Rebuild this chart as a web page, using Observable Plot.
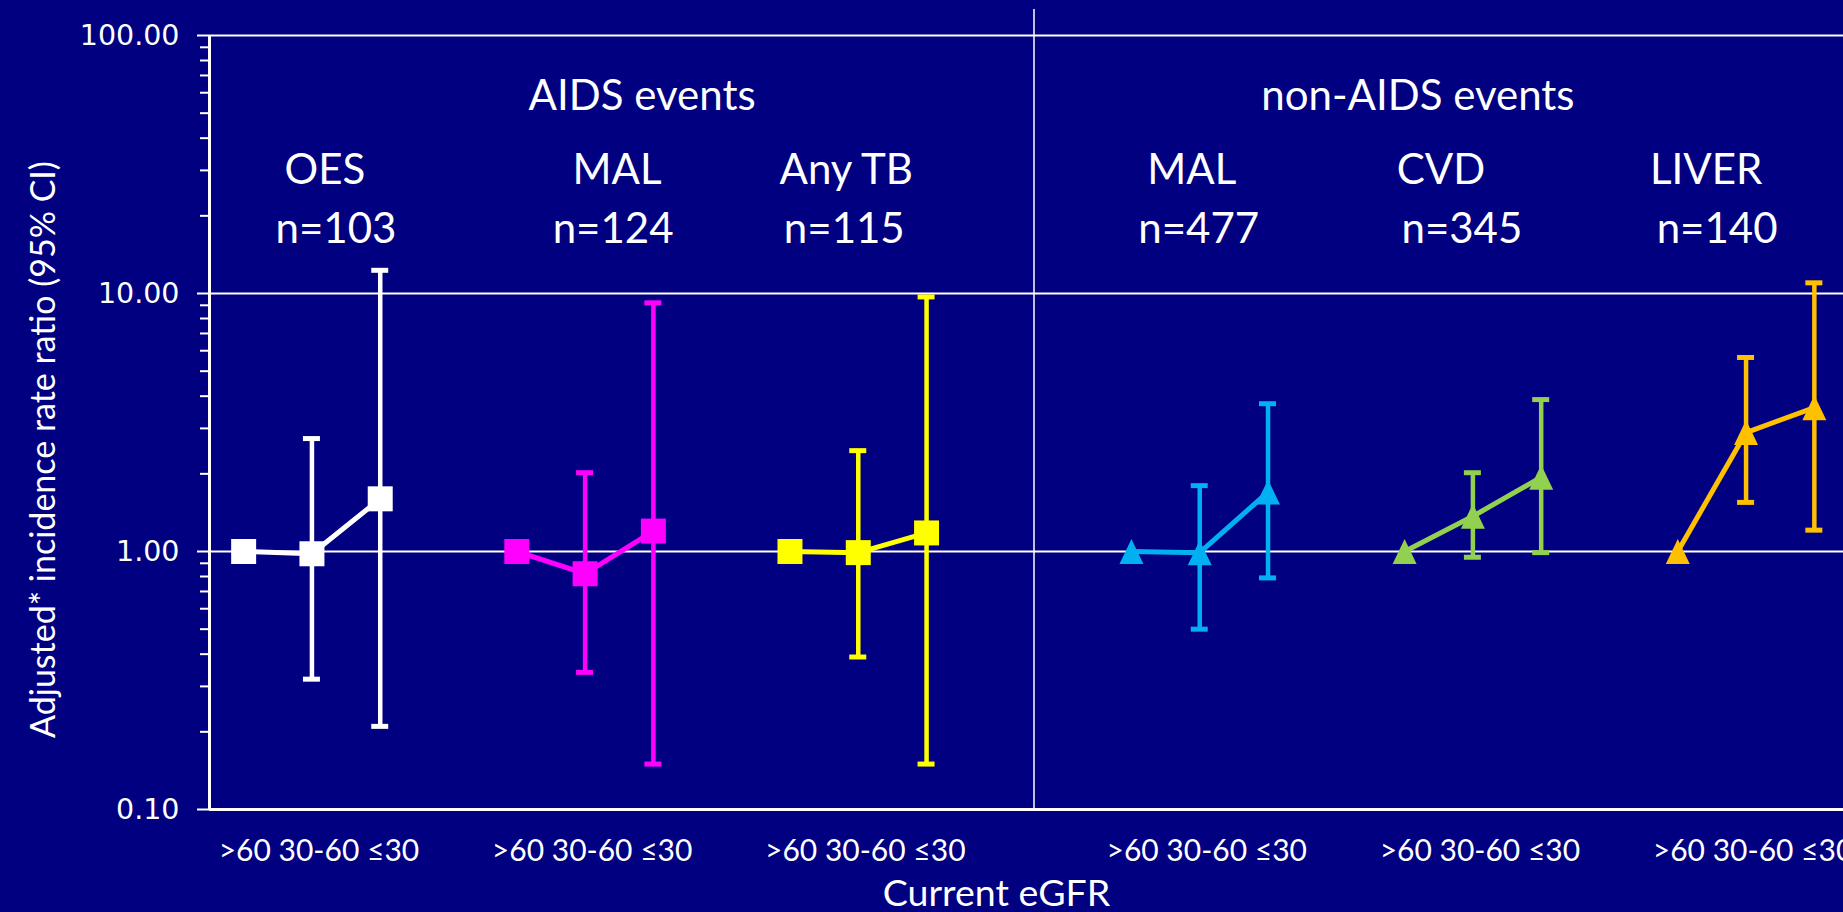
<!DOCTYPE html>
<html><head><meta charset="utf-8">
<script src="https://cdn.jsdelivr.net/npm/d3@7"></script>
<script src="https://cdn.jsdelivr.net/npm/@observablehq/plot@0.6"></script>
<style>
html,body{margin:0;padding:0;background:#000080;overflow:hidden;}
#chart svg{display:block;}
</style></head><body><div id="chart"></div>
<script>
// ---- data ----
// Category axis of the original chart (blank categories separate the groups)
const categories = [">60","30-60","≤30","", ">60","30-60","≤30","", ">60","30-60","≤30","","",
                    ">60","30-60","≤30","", ">60","30-60","≤30","", ">60","30-60","≤30"];
const groupNames = ["OES","MAL","Any TB","MAL","CVD","LIVER"];
const groupN = ["n=103","n=124","n=115","n=477","n=345","n=140"];
const groupSection = [0,0,0,1,1,1];
const sectionNames = ["AIDS events","non-AIDS events"];
const irr    = [[1.00,0.98,1.60],[1.00,0.82,1.20],[1.00,0.99,1.18],[1.00,0.99,1.70],[1.00,1.37,1.94],[1.00,2.89,3.61]];
const ciLow  = [[null,0.32,0.21],[null,0.34,0.15],[null,0.39,0.15],[null,0.50,0.79],[null,0.95,0.99],[null,1.55,1.21]];
const ciHigh = [[null,2.74,12.3],[null,2.02,9.2],[null,2.46,9.7],[null,1.80,3.74],[null,2.02,3.88],[null,5.65,11.0]];
const yTickValues = [0.1, 1, 10, 100];
const yTitle = "Adjusted* incidence rate ratio (95% CI)";
const xTitle = "Current eGFR";

// ---- styles / layout ----
const groupColors = ["#ffffff","#ff00ff","#ffff00","#00b0f0","#92d050","#ffc000"];
const sectionSymbol = ["square","triangle"];
const groupLabelDx = [13, 32, -12, -8, -32, -40];
const groupNDx = [24, 28, -14, -1, -11, -29];
const sectionDx = [57, -55];
const CAL = "Lato, 'Open Sans', sans-serif";

// ---- build table ----
const rows = [];
let g = -1, prevBlank = true, k = 0;
categories.forEach((c, i) => {
  if (c === "") { prevBlank = true; return; }
  if (prevBlank) { g++; k = 0; prevBlank = false; }
  rows.push({slot: i, level: c, group: g, k, est: irr[g][k], lo: ciLow[g][k], hi: ciHigh[g][k],
             color: groupColors[g], section: groupSection[g],
             name: groupNames[g], n: groupN[g]});
  k++;
});
const bars = rows.filter(d => d.lo != null);
const mids = rows.filter(d => d.k === 1);
// one category label line per group: ">60 30-60 ≤30"
const groupTickLabels = mids.map(d => ({slot: d.slot,
  text: rows.filter(r => r.group === d.group).map(r => r.level).join(" ")}));
const sections = sectionNames.map((name, s) => {
  const m = mids.filter(d => d.section === s);
  return {name, s, slot: d3.mean(m, d => d.slot)};
});
// separator between the two sections: boundary between the two blank categories
const lastA = d3.max(rows.filter(d => d.section === 0), d => d.slot);
const firstB = d3.min(rows.filter(d => d.section === 1), d => d.slot);
const sepX = (lastA + firstB) / 2;
const minorTicks = yTickValues.slice(0, -1).flatMap(d => d3.range(2, 10).map(m => m * d));

const triangle = {
  draw(ctx, size) {
    const r = Math.sqrt(size / Math.PI);
    ctx.moveTo(0, -1.25 * r);
    ctx.lineTo(1.2 * r, 1.25 * r);
    ctx.lineTo(-1.2 * r, 1.25 * r);
    ctx.closePath();
  }
};

const textMarks = [];
mids.forEach(d => {
  textMarks.push(Plot.text([d], {x: "slot", text: "name", frameAnchor: "top", lineAnchor: "middle", dy: 135, dx: groupLabelDx[d.group], fontSize: 42, fill: "white"}));
  textMarks.push(Plot.text([d], {x: "slot", text: "n", frameAnchor: "top", lineAnchor: "middle", dy: 194, dx: groupNDx[d.group], fontSize: 42, fill: "white"}));
});
sections.forEach(d => {
  textMarks.push(Plot.text([d], {x: "slot", text: "name", frameAnchor: "top", lineAnchor: "middle", dy: 61, dx: sectionDx[d.s], fontSize: 42, fill: "white"}));
});

const chart = Plot.plot({
  width: 1843, height: 912,
  marginLeft: 209, marginRight: 0, marginTop: 35, marginBottom: 103,
  x: {type: "linear", domain: [-0.5, categories.length - 0.5], range: [209, 1848], axis: null},
  y: {type: "log", domain: [0.1, 100], range: [809, 35]},
  color: {type: "identity"},
  style: {background: "#000080", color: "white", fontFamily: CAL, overflow: "hidden"},
  marks: [
    Plot.ruleY(yTickValues.slice(1), {stroke: "white", strokeWidth: 2.2}),
    Plot.ruleY([yTickValues[0]], {stroke: "white", strokeWidth: 3}),
    Plot.ruleX([-0.5], {stroke: "white", strokeWidth: 3}),
    Plot.ruleX([sepX], {stroke: "white", strokeWidth: 1.5, insetTop: -26, dx: 5}),
    Plot.axisY(minorTicks, {tickSize: 9, tickFormat: () => "", strokeWidth: 2, label: null}),
    Plot.axisY(yTickValues, {tickSize: 12, tickPadding: 18, tickFormat: d => d.toFixed(2),
      fontSize: 28.5, fontFamily: "DejaVu Sans", strokeWidth: 2, label: null}),
    // error bars
    Plot.ruleX(bars, {x: "slot", y1: "lo", y2: "hi", stroke: "color", strokeWidth: 4.5}),
    Plot.ruleY(bars, {y: "hi", x1: "slot", x2: "slot", insetLeft: -8.5, insetRight: -8.5, stroke: "color", strokeWidth: 5}),
    Plot.ruleY(bars, {y: "lo", x1: "slot", x2: "slot", insetLeft: -8.5, insetRight: -8.5, stroke: "color", strokeWidth: 5}),
    // lines
    Plot.line(rows, {x: "slot", y: "est", z: "group", stroke: "color", strokeWidth: 5}),
    // markers
    Plot.dot(rows.filter(d => sectionSymbol[d.section] === "square"),
      {x: "slot", y: "est", fill: "color", symbol: "square", r: 14.1}),
    Plot.dot(rows.filter(d => sectionSymbol[d.section] === "triangle"),
      {x: "slot", y: "est", fill: "color", symbol: triangle, r: 10}),
    // category tick labels
    Plot.text(groupTickLabels, {x: "slot", text: "text", frameAnchor: "bottom", lineAnchor: "middle", dy: 42, dx: 7, fontSize: 30, fill: "white"}),
    // axis titles
    Plot.text([xTitle], {frameAnchor: "bottom", lineAnchor: "middle", textAnchor: "middle", dy: 84, dx: -30, fontSize: 37.5, fill: "white"}),
    Plot.text([yTitle], {frameAnchor: "left", rotate: -90, textAnchor: "middle", lineAnchor: "middle", dx: -165, dy: 27, fontSize: 34, fill: "white"}),
    ...textMarks
  ]
});
document.getElementById("chart").append(chart);
</script>
</body></html>
